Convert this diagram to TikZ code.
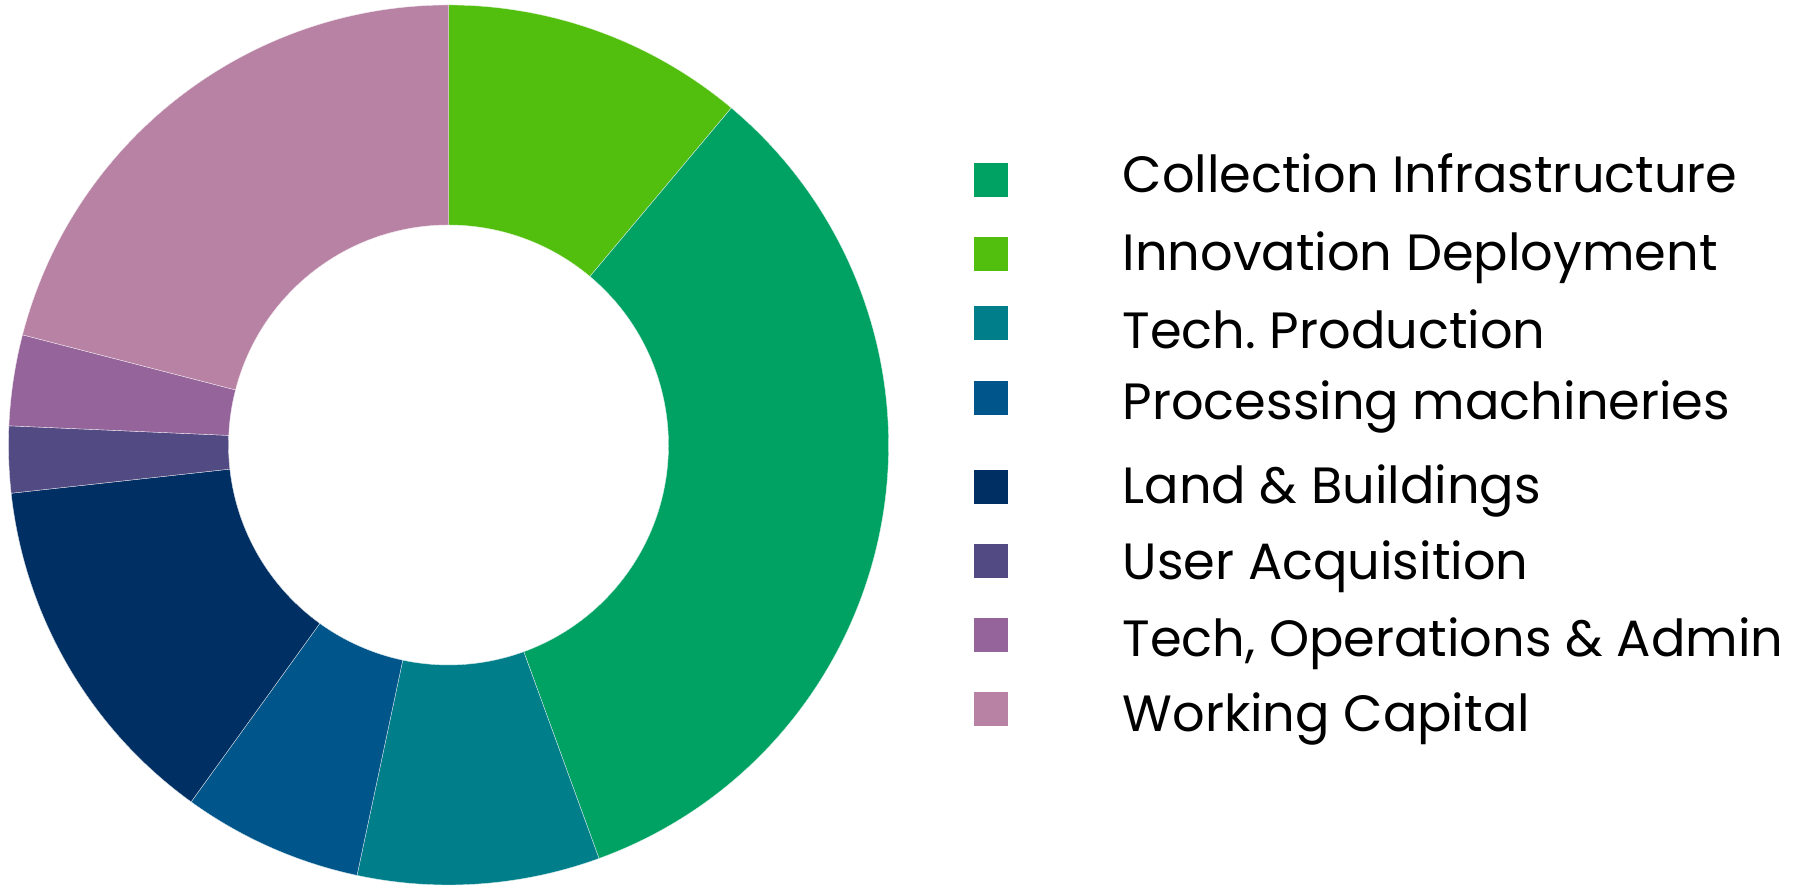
\documentclass[tikz,border=0pt]{standalone}
\usepackage{fontspec}
\setmainfont{Poppins}
\frenchspacing
\definecolor{collect}{HTML}{00A263}
\definecolor{innov}{HTML}{52BE0E}
\definecolor{techprod}{HTML}{007F8A}
\definecolor{procmach}{HTML}{00568A}
\definecolor{landbuild}{HTML}{003063}
\definecolor{useracq}{HTML}{524A82}
\definecolor{techops}{HTML}{94649A}
\definecolor{capital}{HTML}{B882A4}

\begin{document}
\begin{tikzpicture}[
    x=0.01cm, y=0.01cm,
    slice/.style={fill=#1, draw=white!85!#1, line width=0.1pt},
    keybox/.style={fill=#1, minimum size=0.34cm, inner sep=0pt},
    keytext/.style={anchor=base west, inner sep=0pt,
      font=\fontsize{14.5pt}{17pt}\selectfont},
  ]
  \useasboundingbox (0,0) rectangle (1794,886);
  % donut, clockwise from the top
  \begin{scope}[shift={(448.5,441)}]
    \foreach \a/\b/\col in {
      50/90/innov, -70/50/collect, -102/-70/techprod,
      -125.8/-102/procmach, -173.7/-125.8/landbuild,
      -182.5/-173.7/useracq, -194.5/-182.5/techops,
      -270/-194.5/capital}
      \filldraw[slice=\col] (\a:440) arc[start angle=\a, end angle=\b, radius=440]
        -- (\b:220) arc[start angle=\b, end angle=\a, radius=220] -- cycle;
  \end{scope}
  % legend
  \foreach \n/\ys/\yb/\col/\txt in {
    1/706/693/collect/{Collection Infrastructure},
    2/632/615.3/innov/{Innovation Deployment},
    3/563/537/techprod/{Tech. Production},
    4/488/466/procmach/{Processing machineries},
    5/399/382/landbuild/{Land \& Buildings},
    6/325/306/useracq/{User Acquisition},
    7/251/229.3/techops/{Tech, Operations \& Admin},
    8/177/154.3/capital/{Working Capital}} {
    \node[keybox=\col] (key\n) at (991,\ys) {};
    \node[keytext] (txt\n) at (1122,\yb) {\txt};
  }
\end{tikzpicture}
\end{document}
